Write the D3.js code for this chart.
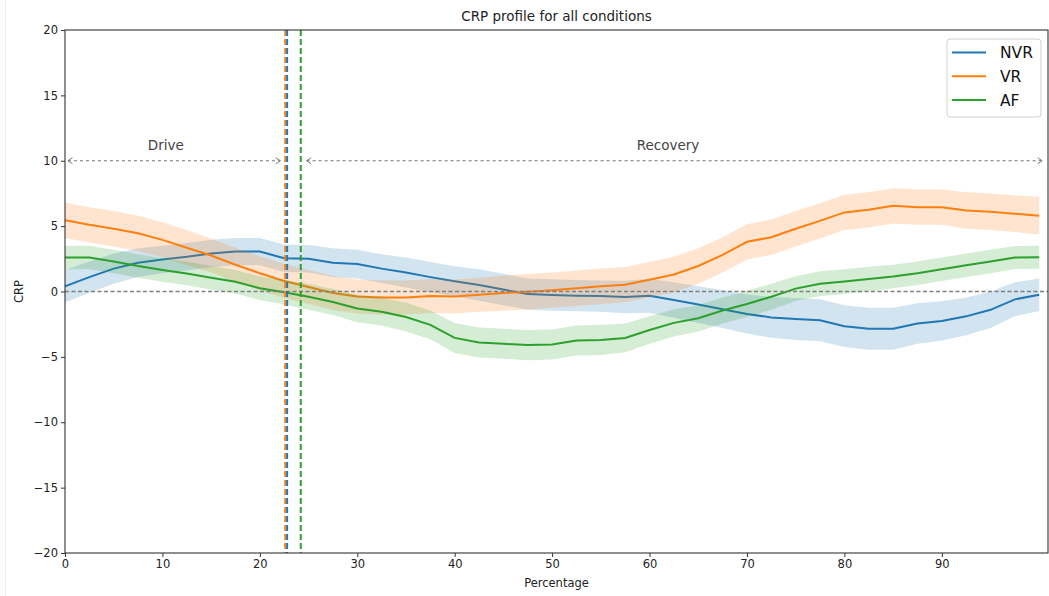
<!DOCTYPE html>
<html>
<head>
<meta charset="utf-8">
<script src="https://cdn.jsdelivr.net/npm/d3@7"></script>
<style>
  body { margin: 0; background: white; }
  svg { display: block; font-family: "DejaVu Sans", sans-serif; }
</style>
</head>
<body>
<div id="chart-area"></div>
<script>
// percentage of the cycle (shared x for all series)
var percentage = [0, 2.5, 5, 7.5, 10, 12.5, 15, 17.5, 20, 22.5, 25, 27.5, 30, 32.5, 35, 37.5, 40,
  42.5, 45, 47.5, 50, 52.5, 55, 57.5, 60, 62.5, 65, 67.5, 70, 72.5, 75, 77.5, 80, 82.5, 85, 87.5,
  90, 92.5, 95, 97.5, 100];

// mean CRP and half width of the shaded band, per condition
var nvrMean = [0.4, 1.1, 1.75, 2.2, 2.45, 2.65, 2.9, 3.05, 3.05, 2.55, 2.5, 2.2, 2.1, 1.75, 1.45,
  1.1, 0.78, 0.5, 0.15, -0.2, -0.27, -0.32, -0.35, -0.42, -0.32, -0.65, -1.0, -1.35, -1.72, -1.98,
  -2.1, -2.2, -2.65, -2.85, -2.85, -2.45, -2.25, -1.9, -1.4, -0.6, -0.25];
var nvrErr = [1.25, 1.2, 1.15, 1.1, 1.05, 1.05, 1.05, 1.05, 1.05, 1.05, 1.05, 1.1, 1.1, 1.1, 1.15,
  1.15, 1.15, 1.2, 1.2, 1.2, 1.2, 1.2, 1.2, 1.25, 1.3, 1.35, 1.4, 1.45, 1.5, 1.55, 1.6, 1.6, 1.6,
  1.6, 1.6, 1.55, 1.5, 1.45, 1.4, 1.3, 1.25];

var vrMean = [5.45, 5.1, 4.8, 4.45, 3.95, 3.35, 2.75, 2.05, 1.4, 0.8, 0.35, -0.12, -0.38, -0.45,
  -0.45, -0.35, -0.38, -0.25, -0.12, -0.02, 0.1, 0.25, 0.4, 0.52, 0.9, 1.3, 1.95, 2.8, 3.8, 4.15,
  4.8, 5.4, 6.05, 6.25, 6.55, 6.45, 6.45, 6.2, 6.1, 5.95, 5.8];
var vrErr = [1.35, 1.35, 1.35, 1.35, 1.35, 1.35, 1.3, 1.3, 1.3, 1.3, 1.3, 1.3, 1.3, 1.3, 1.3, 1.3,
  1.3, 1.3, 1.35, 1.35, 1.35, 1.35, 1.35, 1.35, 1.35, 1.35, 1.35, 1.35, 1.35, 1.35, 1.35, 1.35,
  1.35, 1.35, 1.35, 1.35, 1.35, 1.4, 1.4, 1.4, 1.45];

var afMean = [2.6, 2.6, 2.3, 1.95, 1.65, 1.38, 1.05, 0.75, 0.25, -0.05, -0.4, -0.8, -1.3, -1.55,
  -1.95, -2.55, -3.55, -3.9, -4.0, -4.1, -4.05, -3.75, -3.7, -3.55, -2.95, -2.4, -2.05, -1.45,
  -0.95, -0.4, 0.22, 0.6, 0.76, 0.95, 1.15, 1.4, 1.7, 2.0, 2.3, 2.6, 2.62];
var afErr = [0.9, 0.9, 0.9, 0.9, 0.9, 0.9, 0.9, 0.9, 0.9, 0.95, 1.0, 1.0, 1.05, 1.05, 1.1, 1.1,
  1.15, 1.15, 1.15, 1.15, 1.15, 1.15, 1.15, 1.1, 1.05, 1.05, 1.0, 1.0, 1.0, 1.0, 0.95, 0.95, 0.95,
  0.95, 0.9, 0.9, 0.9, 0.9, 0.9, 0.88, 0.88];

var conditions = ["NVR", "VR", "AF"];
var colors = ["#1f77b4", "#ff7f0e", "#2ca02c"];

// end of the drive phase for each condition (dashed verticals)
var driveEnd = [22.8, 22.6, 24.2];

// phase annotations: [start, end] of the arrow, label position
var phaseNames = ["Drive", "Recovery"];
var phaseFrom = [0.3, 24.8];
var phaseTo = [22.1, 100.3];
var phaseLabelX = [10.35, 61.9];
var phaseArrowY = 10;
var phaseLabelY = 10.85;

var xTicks = [0, 10, 20, 30, 40, 50, 60, 70, 80, 90];
var yTicks = [-20, -15, -10, -5, 0, 5, 10, 15, 20];

var series = conditions.map(function (name, i) {
  var means = [nvrMean, vrMean, afMean][i];
  var errs = [nvrErr, vrErr, afErr][i];
  return {
    name: name,
    color: colors[i],
    values: percentage.map(function (p, j) {
      return { x: p, y: means[j], lo: means[j] - errs[j], hi: means[j] + errs[j] };
    })
  };
});

var margin = { top: 30, right: 1, bottom: 43, left: 65 };
var width = 1049 - margin.left - margin.right,
  height = 596 - margin.top - margin.bottom;

var root = d3.select("#chart-area").append("svg")
  .attr("width", 1049)
  .attr("height", 596);

// faint screenshot edge on the far left
root.append("line")
  .attr("x1", 5.5).attr("x2", 5.5)
  .attr("y1", 0).attr("y2", 596)
  .attr("stroke", "#f0f0f0");

var svg = root.append("g")
  .attr("transform", `translate(${margin.left}, ${margin.top})`);

var x = d3.scaleLinear().domain([0, 100.9]).range([0, width]);
var y = d3.scaleLinear().domain([-20, 20]).range([height, 0]);

var defs = root.append("defs");
defs.append("clipPath").attr("id", "plot-clip")
  .append("rect").attr("width", width).attr("height", height);

["start", "end"].forEach(function (side) {
  defs.append("marker")
    .attr("id", "head-" + side)
    .attr("viewBox", "0 0 6 8")
    .attr("refX", 5.5)
    .attr("refY", 4)
    .attr("markerWidth", 6)
    .attr("markerHeight", 8)
    .attr("markerUnits", "userSpaceOnUse")
    .attr("orient", side === "start" ? "auto-start-reverse" : "auto")
    .append("path")
    .attr("d", "M1,1 L5.5,4 L1,7")
    .attr("fill", "none")
    .attr("stroke", "#777")
    .attr("stroke-width", 1);
});

var plot = svg.append("g").attr("clip-path", "url(#plot-clip)");

var area = d3.area()
  .x(d => x(d.x))
  .y0(d => y(d.lo))
  .y1(d => y(d.hi));
var line = d3.line()
  .x(d => x(d.x))
  .y(d => y(d.y));

// bands and mean lines
series.forEach(function (s) {
  plot.append("path")
    .datum(s.values)
    .attr("d", area)
    .attr("fill", s.color)
    .attr("fill-opacity", 0.2);
  plot.append("path")
    .datum(s.values)
    .attr("d", line)
    .attr("fill", "none")
    .attr("stroke", s.color)
    .attr("stroke-width", 2);
});

// zero reference
plot.append("line")
  .attr("x1", 0).attr("x2", width)
  .attr("y1", y(0)).attr("y2", y(0))
  .attr("stroke", "#808080")
  .attr("stroke-width", 1.5)
  .attr("stroke-dasharray", "4,2.5");

// end of drive per condition (VR underneath, NVR on top)
[1, 0, 2].forEach(function (i) {
  plot.append("line")
    .attr("x1", x(driveEnd[i])).attr("x2", x(driveEnd[i]))
    .attr("y1", 0).attr("y2", height)
    .attr("stroke", colors[i])
    .attr("stroke-width", 2)
    .attr("stroke-dasharray", "6,3");
});

// phase arrows and labels
phaseNames.forEach(function (name, i) {
  svg.append("line")
    .attr("x1", x(phaseFrom[i])).attr("x2", x(phaseTo[i]))
    .attr("y1", y(phaseArrowY)).attr("y2", y(phaseArrowY))
    .attr("stroke", "#777")
    .attr("stroke-width", 1.2)
    .attr("stroke-dasharray", "3,3")
    .attr("marker-start", "url(#head-start)")
    .attr("marker-end", "url(#head-end)");
  svg.append("text")
    .attr("x", x(phaseLabelX[i]))
    .attr("y", y(phaseLabelY))
    .attr("text-anchor", "middle")
    .attr("font-size", "13.5px")
    .attr("fill", "#444")
    .text(name);
});

// axes
var xAxis = d3.axisBottom(x).tickValues(xTicks).tickSize(4).tickPadding(3)
  .tickFormat(d3.format("d"));
var yAxis = d3.axisLeft(y).tickValues(yTicks).tickSize(4).tickPadding(3)
  .tickFormat(d => d < 0 ? "\u2212" + Math.abs(d) : d);

svg.append("g")
  .attr("transform", `translate(0, ${height})`)
  .call(xAxis)
  .call(g => g.select(".domain").remove());
svg.append("g")
  .call(yAxis)
  .call(g => g.select(".domain").remove());

svg.selectAll(".tick text")
  .attr("font-size", "11.5px")
  .attr("font-family", "DejaVu Sans, sans-serif")
  .attr("fill", "#222");
svg.selectAll(".tick line").attr("stroke", "#333");

// frame
svg.append("rect")
  .attr("width", width)
  .attr("height", height)
  .attr("fill", "none")
  .attr("stroke", "#333")
  .attr("stroke-width", 1.1);

// title and axis labels
svg.append("text")
  .attr("x", width / 2)
  .attr("y", -9)
  .attr("text-anchor", "middle")
  .attr("font-size", "13.5px")
  .attr("fill", "#222")
  .text("CRP profile for all conditions");
svg.append("text")
  .attr("x", width / 2)
  .attr("y", height + 34)
  .attr("text-anchor", "middle")
  .attr("font-size", "11.5px")
  .attr("fill", "#222")
  .text("Percentage");
svg.append("text")
  .attr("transform", `translate(${-42}, ${height / 2}) rotate(-90)`)
  .attr("text-anchor", "middle")
  .attr("font-size", "11.5px")
  .attr("fill", "#222")
  .text("CRP");

// legend
var legend = svg.append("g")
  .attr("transform", `translate(${width - 101}, 9)`);
legend.append("rect")
  .attr("width", 94)
  .attr("height", 78)
  .attr("rx", 3)
  .attr("fill", "white")
  .attr("fill-opacity", 0.8)
  .attr("stroke", "#d0d0d0");
var legendRows = legend.selectAll("g.row")
  .data(series)
  .enter()
  .append("g")
  .attr("class", "row")
  .attr("transform", (d, i) => `translate(0, ${13.5 + i * 23.8})`);
legendRows.append("line")
  .attr("x1", 5).attr("x2", 39)
  .attr("stroke", d => d.color)
  .attr("stroke-width", 2);
legendRows.append("text")
  .attr("x", 53)
  .attr("dy", "0.36em")
  .attr("font-size", "15.5px")
  .attr("fill", "#111")
  .text(d => d.name);
</script>
</body>
</html>
